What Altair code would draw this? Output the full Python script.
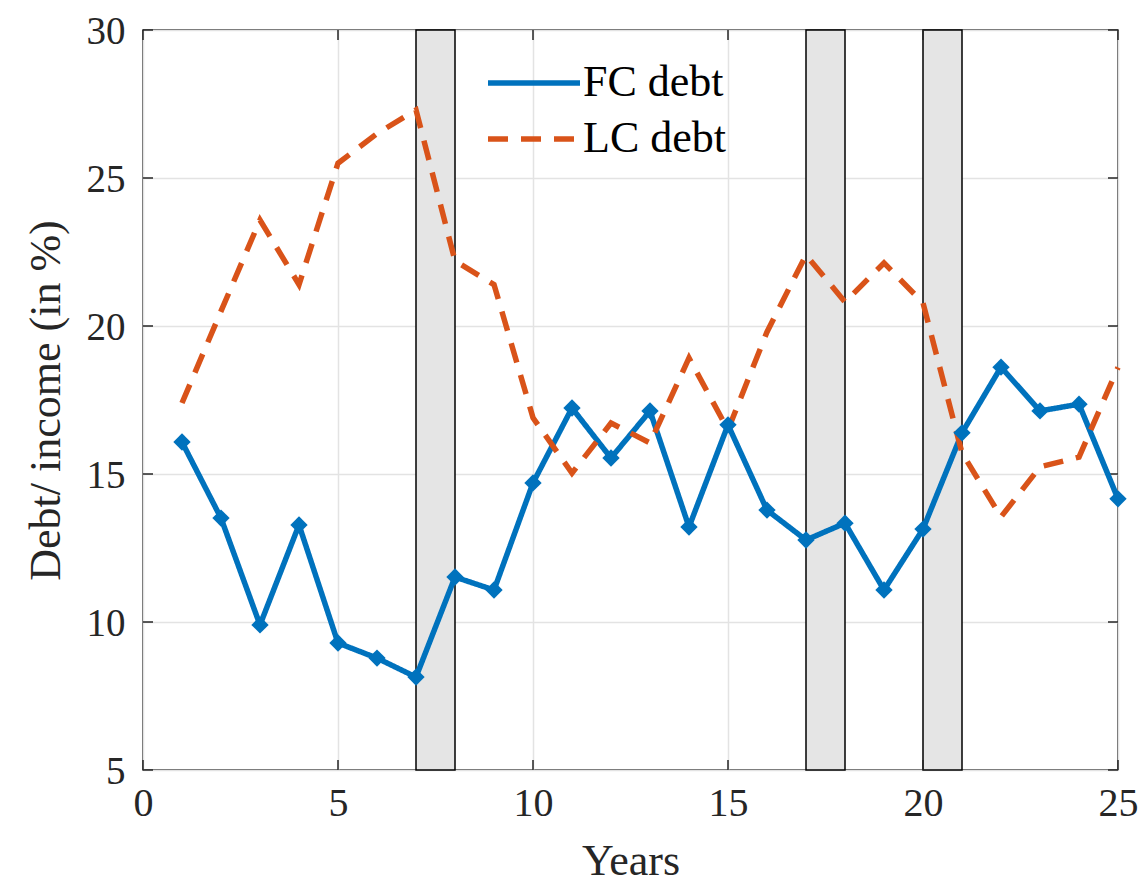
import altair as alt
import pandas as pd

years = list(range(1, 26))
fc_debt = [16.08, 13.51, 9.90, 13.28, 9.29, 8.78, 8.14, 11.52, 11.08, 14.70,
           17.23, 15.54, 17.13, 13.21, 16.66, 13.78, 12.77, 13.34, 11.08, 13.14,
           16.39, 18.61, 17.13, 17.36, 14.16]
lc_debt = [17.4, 20.5, 23.58, 21.4, 25.5, 26.5, 27.3, 22.2, 21.4, 16.9,
           15.03, 16.72, 16.05, 18.92, 16.49, 19.8, 22.4, 20.81, 22.13, 20.78,
           15.71, 13.55, 15.24, 15.57, 18.6]
series_names = ["FC debt", "LC debt"]
shade_start = [7, 17, 20]
shade_end = [8, 18, 21]
x_ticks = [0, 5, 10, 15, 20, 25]
y_ticks = [5, 10, 15, 20, 25, 30]

W, H = 975, 740
FONT = "Liberation Serif"
BLUE, ORANGE = "#0072BD", "#D95319"

df = pd.DataFrame({
    "year": years * 2,
    "value": fc_debt + lc_debt,
    "series": [series_names[0]] * len(years) + [series_names[1]] * len(years),
})
df_fc = df[df["series"] == series_names[0]]
shades = pd.DataFrame({"start": shade_start, "end": shade_end})
xt = pd.DataFrame({"t": x_ticks})
yt = pd.DataFrame({"t": y_ticks})

xscale = alt.Scale(domain=[0, 25], nice=False)
yscale = alt.Scale(domain=[5, 30], nice=False)

xaxis = alt.Axis(values=x_ticks, title="Years", grid=True, domain=False, ticks=False,
                 labelPadding=13, titlePadding=16, labelFlush=False, labelFontSize=40)
yaxis = alt.Axis(values=y_ticks, title="Debt/ income (in %)", grid=True, domain=False,
                 ticks=False, labelPadding=18, titlePadding=18, labelFlush=False,
                 labelFontSize=39, labelOffset=1)

LINE_PATH = "M-2,0H2"

color = alt.Color(
    "series:N", scale=alt.Scale(domain=series_names, range=[BLUE, ORANGE]),
    legend=alt.Legend(
        title=None, orient="none", legendX=365, legendY=27,
        symbolType=LINE_PATH, symbolSize=2116, symbolStrokeWidth=5.5,
        labelFontSize=44, labelFont=FONT, labelColor="black",
        labelOffset=23, rowPadding=8,
    ))
dash = alt.StrokeDash("series:N", scale=alt.Scale(domain=series_names,
                                                  range=[[1, 0], [20, 13]]),
                      legend=None)

base_rect = alt.Chart(shades).mark_rect(fill="#e5e5e5", stroke="black",
                                         strokeWidth=1.5).encode(
    x=alt.X("start:Q", scale=xscale, axis=xaxis),
    x2="end:Q",
    y=alt.value(0), y2=alt.value(H),
)

lines = alt.Chart(df).mark_line(strokeWidth=5.5).encode(
    x=alt.X("year:Q", scale=xscale, axis=xaxis),
    y=alt.Y("value:Q", scale=yscale, axis=yaxis),
    color=color,
    strokeDash=dash,
)

points = alt.Chart(df_fc).mark_point(shape="diamond", filled=True, size=300,
                                     opacity=1, color=BLUE).encode(
    x=alt.X("year:Q", scale=xscale),
    y=alt.Y("value:Q", scale=yscale),
)

tick_style = dict(color="#262626", strokeWidth=1.5)
ytl = alt.Chart(yt).mark_rule(**tick_style).encode(
    y=alt.Y("t:Q", scale=yscale), x=alt.value(0), x2=alt.value(10))
ytr = alt.Chart(yt).mark_rule(**tick_style).encode(
    y=alt.Y("t:Q", scale=yscale), x=alt.value(W - 10), x2=alt.value(W))
xtb = alt.Chart(xt).mark_rule(**tick_style).encode(
    x=alt.X("t:Q", scale=xscale), y=alt.value(H - 10), y2=alt.value(H))
xtt = alt.Chart(xt).mark_rule(**tick_style).encode(
    x=alt.X("t:Q", scale=xscale), y=alt.value(0), y2=alt.value(10))

chart = alt.layer(base_rect, ytl, ytr, xtb, xtt, lines, points).properties(
    width=W, height=H,
    autosize=alt.AutoSizeParams(type="none"),
    padding={"left": 135, "top": 22, "right": 20, "bottom": 115},
).configure_view(
    stroke="#262626", strokeWidth=1.5
).configure_axis(
    gridColor="#e3e3e3", gridWidth=1.5,
    labelFont=FONT, labelFontSize=41, labelColor="#262626",
    titleFont=FONT, titleFontSize=44, titleColor="#262626", titleFontWeight="normal",
)

chart.save("out.html", embed_options={"renderer": "svg", "actions": False})
